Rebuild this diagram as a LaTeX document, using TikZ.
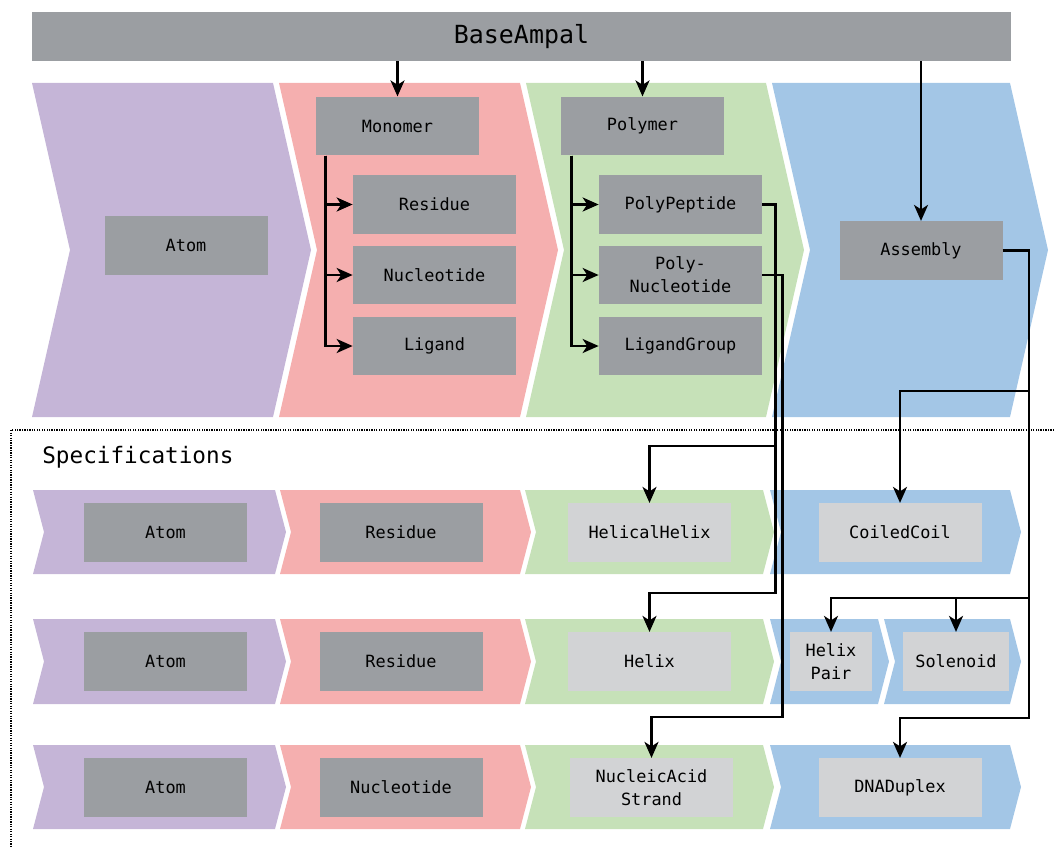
\documentclass[tikz,border=0pt]{standalone}
\usepackage{fontspec}
\setmonofont{DejaVu Sans Mono}
\usetikzlibrary{arrows.meta,calc}
\definecolor{atomcol}{HTML}{C5B5D7}
\definecolor{moncol}{HTML}{F5AFAF}
\definecolor{polcol}{HTML}{C6E1B8}
\definecolor{asmcol}{HTML}{A3C6E6}
\definecolor{darkbox}{HTML}{9B9EA2}
\definecolor{lightbox}{HTML}{D2D3D5}
% chevron: colour, left x, right x, top y, bottom y, depth
\newcommand{\chevron}[6]{\fill[#1] (#2,#4) -- (#3,#4) -- ({#3+#6},{(#4+#5)/2}) -- (#3,#5) -- (#2,#5) -- ({#2+#6},{(#4+#5)/2}) -- cycle;}

\begin{document}
\begin{tikzpicture}[x=0.2mm,y=-0.2mm,
	box/.style={fill=darkbox, minimum width=3.26cm, minimum height=1.17cm, inner sep=0pt, align=center, font=\ttfamily\fontsize{9.6}{13}\selectfont},
	specbox/.style={box, fill=lightbox},
	link/.style={line width=1.4pt, -{Stealth[length=3.2mm,width=2.8mm,inset=0.9mm]}}]
			%%%%% START %%%%%
			\useasboundingbox (0,0) rectangle (1054,847);
			
			% top chevrons
			\chevron{atomcol}{32}{273}{83}{417}{38}
			\chevron{moncol}{279}{520}{83}{417}{38}
			\chevron{polcol}{526}{766}{83}{417}{38}
			\chevron{asmcol}{772}{1010}{83}{417}{38}
			
			% specification chevrons
			\foreach \yt/\yb in {490/574, 619/704, 745/829}{
				\chevron{atomcol}{33}{275}{\yt}{\yb}{11}
				\chevron{moncol}{280}{520}{\yt}{\yb}{11}
				\chevron{polcol}{525}{763}{\yt}{\yb}{11}
			}
			\chevron{asmcol}{770}{1010}{490}{574}{11}
			\chevron{asmcol}{770}{878}{619}{704}{11}
			\chevron{asmcol}{884}{1010}{619}{704}{11}
			\chevron{asmcol}{770}{1010}{745}{829}{11}
			
			\draw[line width=1pt, dash pattern=on 0.7pt off 0.7pt] (1054,430) -- (11,430) -- (11,847);
			
			\node[box, minimum width=19.58cm, minimum height=0.98cm, font=\ttfamily\fontsize{14.2}{17}\selectfont] (base) at (521.5,36.5) {BaseAmpal};
			
			\node[box] (atom) at (186,245.5) {Atom};
			\node[box] (monomer) at (397.5,126) {Monomer};
			\node[box] (residue) at (434.5,204.5) {Residue};
			\node[box] (nucleotide) at (434.5,275) {Nucleotide};
			\node[box] (ligand) at (434.5,346) {Ligand};
			\node[box] (polymer) at (642.5,126) {Polymer};
			\node[box] (polypep) at (680.5,204.5) {PolyPeptide};
			\node[box] (polynuc) at (680.5,275) {Poly-\\Nucleotide};
			\node[box] (liggroup) at (680.5,346) {LigandGroup};
			\node[box] (assembly) at (921,250.5) {Assembly};
			
			\node[anchor=base west, inner sep=0pt, font=\ttfamily\fontsize{12.9}{15}\selectfont] (spec) at (42,463) {Specifications};
			
			\node[box] (atomA) at (165.5,532.5) {Atom};
			\node[box] (residueA) at (401,532.5) {Residue};
			\node[specbox] (helical) at (649.5,532.5) {HelicalHelix};
			\node[specbox] (coiled) at (900,532.5) {CoiledCoil};
			
			\node[box] (atomB) at (165.5,661.5) {Atom};
			\node[box] (residueB) at (401,661.5) {Residue};
			\node[specbox] (helix) at (649.5,661.5) {Helix};
			\node[specbox, minimum width=1.63cm] (helixpair) at (831,661.5) {Helix\\Pair};
			\node[specbox, minimum width=2.12cm] (solenoid) at (956,661.5) {Solenoid};
			
			\node[box] (atomC) at (165.5,787.5) {Atom};
			\node[box] (nucleotideC) at (401,787.5) {Nucleotide};
			\node[specbox] (strand) at (651.5,787.5) {NucleicAcid\\Strand};
			\node[specbox] (duplex) at (900,787.5) {DNADuplex};
			
			% from the base class
			\draw[link] (monomer.north |- base.south) -- (monomer.north);
			\draw[link] (polymer.north |- base.south) -- (polymer.north);
			\draw[link] (assembly.north |- base.south) -- (assembly.north);
			
			\foreach \n in {residue,nucleotide,ligand}
				\draw[link] ([xshift=0.2cm]monomer.south west) |- (\n.west);
			\foreach \n in {polypep,polynuc,liggroup}
				\draw[link] ([xshift=0.22cm]polymer.south west) |- (\n.west);
			
			% into the specifications
			\draw[link] (polypep.east) -- ++(13,0) |- ([yshift=1.14cm]helical.north) -- (helical.north);
			\draw[link] (polypep.east) -- ++(13,0) |- ([yshift=0.78cm]helix.north) -- (helix.north);
			\draw[link] (polynuc.east) -- ++(20,0) |- ([yshift=0.82cm]strand.north) -- (strand.north);
			\draw[link] (assembly.east) -- ++(26,0) |- ([yshift=2.24cm]coiled.north) -- (coiled.north);
			\draw[link] (assembly.east) -- ++(26,0) |- ([yshift=0.68cm]helixpair.north) -- (helixpair.north);
			\draw[link] (assembly.east) -- ++(26,0) |- ([yshift=0.68cm]solenoid.north) -- (solenoid.north);
			\draw[link] (assembly.east) -- ++(26,0) |- ([yshift=0.8cm]duplex.north) -- (duplex.north);
			
			%%%%% END %%%%%
\end{tikzpicture}
\end{document}
